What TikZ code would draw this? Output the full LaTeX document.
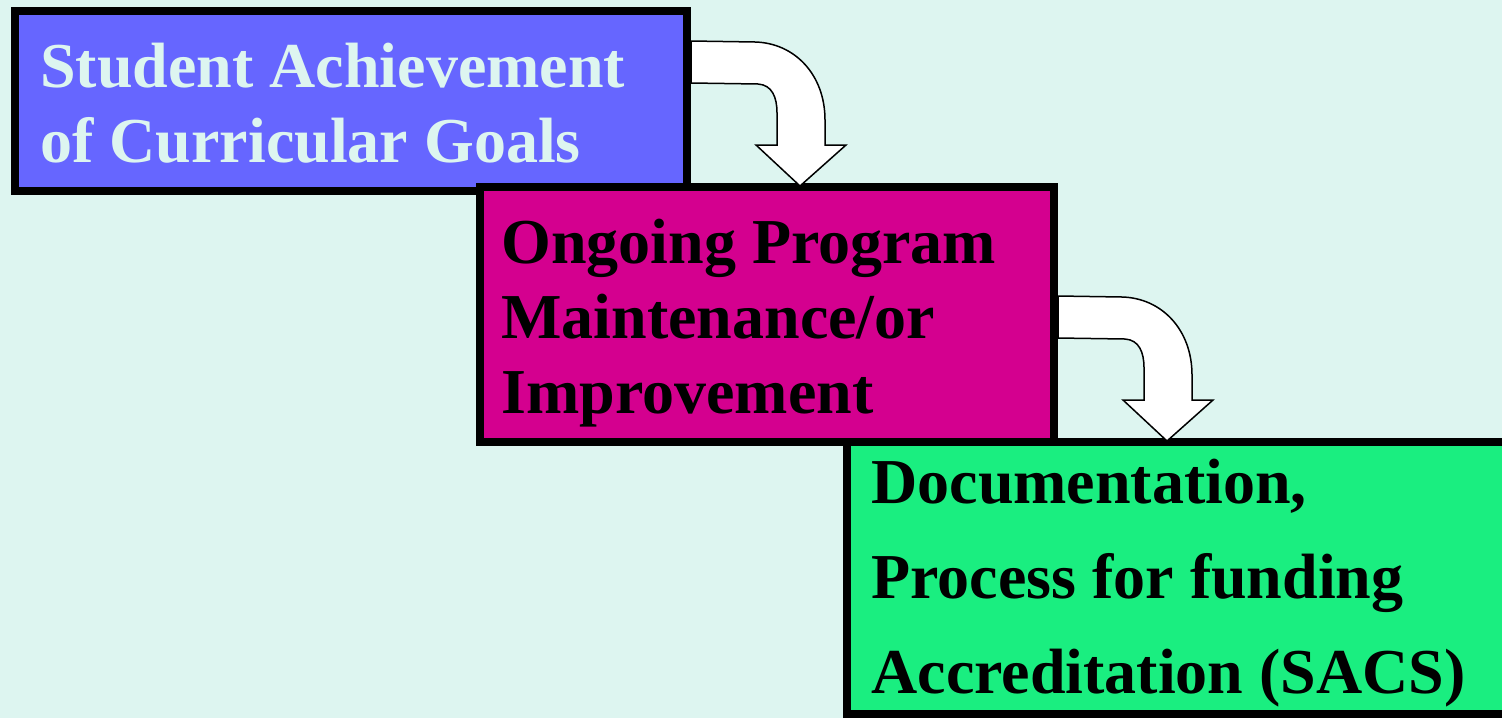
\documentclass[tikz,border=0pt]{standalone}
\usepackage{fontspec}
\setmainfont{Liberation Serif}
\usetikzlibrary{calc}
\definecolor{bgmint}{HTML}{DDF5F0}
\definecolor{goalblue}{HTML}{6666FF}
\definecolor{progmagenta}{HTML}{D4008F}
\definecolor{docgreen}{HTML}{1AEE80}
\tikzset{
	stagebox/.style={draw=black, line width=4pt, inner sep=0pt, anchor=north west},
	stagetext/.style={font=\fontsize{32}{37.5}\selectfont\bfseries, inner sep=0pt, anchor=base west},
	turnarrow/.style={draw=black, fill=white, line width=0.75pt, line join=miter},
}
% bent block arrow, #1 = upper corner of its tail
\def\turnarrow(#1){\draw[turnarrow, shift={(#1)}] (0,0) -- (64,1) .. controls (104,2) and (134,34) .. (134,79) -- (134,104) -- (155,104) -- (109,145) -- (65,104) -- (86,104) -- (86,72) .. controls (86,56) and (81,44) .. (67,43) -- (0,42) -- cycle;}

\begin{document}
\begin{tikzpicture}[x=0.5pt, y=-0.5pt]
			%%%%% START %%%%%
			
			\fill[bgmint] (0,0) rectangle (1502,718);
			\useasboundingbox (0,0) rectangle (1502,718);
			
			\node[stagebox, fill=goalblue, minimum width=336pt, minimum height=90pt] (goals) at (11,7) {};
			\node[stagebox, fill=progmagenta, minimum width=287pt, minimum height=127.5pt] (prog) at (476,183) {};
			\node[stagebox, fill=docgreen, minimum width=329.5pt, minimum height=136pt] (doc) at (843,438) {};
			
			\node[stagetext, text=bgmint] (goalsA) at (40,87) {Student Achievement};
			\node[stagetext, text=bgmint] (goalsB) at (40,162) {of Curricular Goals};
			
			\node[stagetext] (progA) at (501,263) {Ongoing Program};
			\node[stagetext] (progB) at (501,338) {Maintenance/or};
			\node[stagetext] (progC) at (501,413) {Improvement};
			
			\node[stagetext] (docA) at (871,503) {Documentation,};
			\node[stagetext] (docB) at (871,598) {Process for funding};
			\node[stagetext] (docC) at (871,693) {Accreditation (SACS)};
			
			\coordinate (goalstail) at ($(goals.north east)+(0,34)$);
			\coordinate (progtail) at ($(prog.north east)+(0,113)$);
			\turnarrow(goalstail);
			\turnarrow(progtail);
			
			%%%%% END %%%%%
\end{tikzpicture}
\end{document}
